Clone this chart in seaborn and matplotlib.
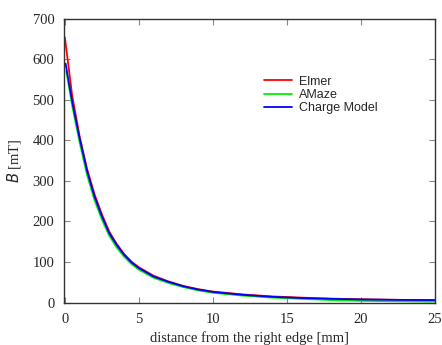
import numpy as np
import pandas as pd
import matplotlib
matplotlib.use("Agg")
import matplotlib.pyplot as plt
import seaborn as sns

#%% data
x_elmer = [0, 0.5, 1, 1.5, 2, 2.5, 3, 3.5, 4, 4.5, 5, 6, 7, 8, 9, 10, 12, 14, 16, 18, 20, 22.5, 25]
b_elmer = [655, 510, 410, 330, 268, 218, 175, 145, 120, 101, 87, 66, 52, 41, 33, 27, 20, 15, 12, 9.5, 8, 6.5, 5.5]

x_amaze = [0.1, 0.5, 1, 1.5, 2, 2.5, 3, 3.5, 4, 4.5, 5, 6, 7, 8, 9, 10, 12, 14, 16, 18, 20, 22.5, 25]
b_amaze = [572, 485, 395, 315, 253, 205, 165, 136, 113, 95, 81, 61, 48, 38, 30, 24, 17, 12, 9, 6, 4, 3, 2]

x_charge = [0.05, 0.5, 1, 1.5, 2, 2.5, 3, 3.5, 4, 4.5, 5, 6, 7, 8, 9, 10, 12, 14, 16, 18, 20, 22.5, 25]
b_charge = [590, 495, 405, 325, 262, 213, 171, 142, 118, 99, 85, 64, 51, 40, 32, 26, 19, 14, 11, 9, 7.5, 6.5, 6]

names = ['Elmer', 'AMaze', 'Charge Model']
cl = ['#ff0000', '#00ee00', '#0000ff']

df = pd.concat([
    pd.DataFrame({'x': x_elmer, 'B': b_elmer, 'model': names[0]}),
    pd.DataFrame({'x': x_amaze, 'B': b_amaze, 'model': names[1]}),
    pd.DataFrame({'x': x_charge, 'B': b_charge, 'model': names[2]}),
], ignore_index=True)

#%% style
sns.set_style("ticks")
plt.rcParams['font.family'] = ['Liberation Serif', 'DejaVu Serif']

fig = plt.figure(figsize=(4.42, 3.45), dpi=100)
ax = fig.add_axes([0.145, 0.122, 0.839, 0.823])

sns.lineplot(data=df, x='x', y='B', hue='model', hue_order=names,
             palette=cl, linewidth=1.3, sort=False, estimator=None, ax=ax)

ax.set_xlim(-0.05, 25)
ax.set_ylim(-1, 700)
ax.set_xticks([0, 5, 10, 15, 20, 25])
ax.set_yticks(range(0, 701, 100))
ax.tick_params(direction='in', top=True, right=True, length=4,
               labelsize=10.5, color='#888888', pad=7)
for s in ax.spines.values():
    s.set_color('#333333')
    s.set_linewidth(1.0)

ax.set_xlabel('distance from the right edge [mm]', fontsize=10.5, labelpad=4)
ax.set_ylabel('$B$ [mT]', fontsize=10.5, labelpad=7)

leg = ax.legend(frameon=False, loc='upper left', bbox_to_anchor=(0.51, 0.84),
                prop={'family': 'Liberation Sans', 'size': 9},
                handlelength=2.2, labelspacing=0.1, handletextpad=0.6)

fig.savefig('out.png', dpi=100)
